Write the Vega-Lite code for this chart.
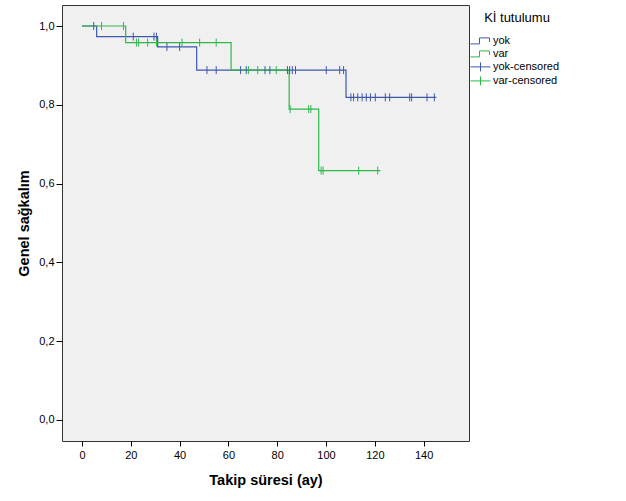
{
  "$schema": "https://vega.github.io/schema/vega-lite/v6.json",
  "width": 407,
  "height": 436,
  "autosize": {"type": "none"},
  "padding": {"left": 62, "top": 5, "right": 157, "bottom": 60},
  "background": "white",
  "config": {
    "view": {"fill": "#f0f0f0", "stroke": "#333333", "strokeWidth": 1},
    "font": "Liberation Sans",
    "axis": {
      "grid": false,
      "domain": false,
      "tickColor": "#000000",
      "labelColor": "#000000",
      "titleColor": "#000000",
      "labelFont": "Liberation Sans",
      "titleFont": "Liberation Sans",
      "labelFontSize": 11,
      "titleFontSize": 14.5,
      "titleFontWeight": "bold"
    },
    "legend": {
      "labelFont": "Liberation Sans",
      "titleFont": "Liberation Sans",
      "labelFontSize": 11,
      "titleFontSize": 13,
      "titleFontWeight": "normal",
      "labelColor": "#000000",
      "titleColor": "#000000"
    }
  },
  "datasets": {
    "curves": [
      {"series": "yok", "t": 0, "s": 1.0},
      {"series": "yok", "t": 6, "s": 0.973},
      {"series": "yok", "t": 31, "s": 0.947},
      {"series": "yok", "t": 47, "s": 0.888},
      {"series": "yok", "t": 108.2, "s": 0.819},
      {"series": "yok", "t": 145.2, "s": 0.819},
      {"series": "var", "t": 0, "s": 1.0},
      {"series": "var", "t": 17.9, "s": 0.958},
      {"series": "var", "t": 61.1, "s": 0.888},
      {"series": "var", "t": 84.9, "s": 0.789},
      {"series": "var", "t": 97, "s": 0.633},
      {"series": "var", "t": 122.3, "s": 0.633}
    ],
    "censored": [
      {"series": "yok-censored", "t": 4.8, "s": 1.0},
      {"series": "yok-censored", "t": 21, "s": 0.973},
      {"series": "yok-censored", "t": 29.5, "s": 0.973},
      {"series": "yok-censored", "t": 30.5, "s": 0.973},
      {"series": "yok-censored", "t": 34.8, "s": 0.947},
      {"series": "yok-censored", "t": 40, "s": 0.947},
      {"series": "yok-censored", "t": 51.2, "s": 0.888},
      {"series": "yok-censored", "t": 55, "s": 0.888},
      {"series": "yok-censored", "t": 65, "s": 0.888},
      {"series": "yok-censored", "t": 67.3, "s": 0.888},
      {"series": "yok-censored", "t": 75, "s": 0.888},
      {"series": "yok-censored", "t": 77, "s": 0.888},
      {"series": "yok-censored", "t": 84.2, "s": 0.888},
      {"series": "yok-censored", "t": 85.1, "s": 0.888},
      {"series": "yok-censored", "t": 86.2, "s": 0.888},
      {"series": "yok-censored", "t": 87.5, "s": 0.888},
      {"series": "yok-censored", "t": 100.1, "s": 0.888},
      {"series": "yok-censored", "t": 105.6, "s": 0.888},
      {"series": "yok-censored", "t": 107.2, "s": 0.888},
      {"series": "yok-censored", "t": 110.2, "s": 0.819},
      {"series": "yok-censored", "t": 111.3, "s": 0.819},
      {"series": "yok-censored", "t": 113, "s": 0.819},
      {"series": "yok-censored", "t": 114.8, "s": 0.819},
      {"series": "yok-censored", "t": 116.5, "s": 0.819},
      {"series": "yok-censored", "t": 118.2, "s": 0.819},
      {"series": "yok-censored", "t": 120.2, "s": 0.819},
      {"series": "yok-censored", "t": 124.3, "s": 0.819},
      {"series": "yok-censored", "t": 126.1, "s": 0.819},
      {"series": "yok-censored", "t": 134.3, "s": 0.819},
      {"series": "yok-censored", "t": 135.1, "s": 0.819},
      {"series": "yok-censored", "t": 141.4, "s": 0.819},
      {"series": "yok-censored", "t": 144.4, "s": 0.819},
      {"series": "var-censored", "t": 8, "s": 1.0},
      {"series": "var-censored", "t": 17, "s": 1.0},
      {"series": "var-censored", "t": 22.3, "s": 0.958},
      {"series": "var-censored", "t": 23.2, "s": 0.958},
      {"series": "var-censored", "t": 26.9, "s": 0.958},
      {"series": "var-censored", "t": 30.5, "s": 0.958},
      {"series": "var-censored", "t": 41, "s": 0.958},
      {"series": "var-censored", "t": 48.2, "s": 0.958},
      {"series": "var-censored", "t": 55, "s": 0.958},
      {"series": "var-censored", "t": 68.2, "s": 0.888},
      {"series": "var-censored", "t": 72, "s": 0.888},
      {"series": "var-censored", "t": 79.6, "s": 0.888},
      {"series": "var-censored", "t": 85.3, "s": 0.789},
      {"series": "var-censored", "t": 92.9, "s": 0.789},
      {"series": "var-censored", "t": 93.8, "s": 0.789},
      {"series": "var-censored", "t": 98, "s": 0.633},
      {"series": "var-censored", "t": 98.8, "s": 0.633},
      {"series": "var-censored", "t": 113.4, "s": 0.633},
      {"series": "var-censored", "t": 121.2, "s": 0.633}
    ]
  },
  "layer": [
    {
      "data": {"name": "curves"},
      "mark": {"type": "line", "interpolate": "step-after", "strokeWidth": 1.2},
      "encoding": {
        "x": {
          "field": "t",
          "type": "quantitative",
          "scale": {"domain": [-8.2, 158.6], "nice": false, "zero": false},
          "axis": {
            "values": [0, 20, 40, 60, 80, 100, 120, 140],
            "tickSize": 5,
            "labelPadding": 3,
            "title": "Takip süresi (ay)",
            "titleY": 43,
            "titleBaseline": "alphabetic"
          }
        },
        "y": {
          "field": "s",
          "type": "quantitative",
          "scale": {"domain": [-0.0533, 1.0533], "nice": false, "zero": false},
          "axis": {
            "values": [0, 0.2, 0.4, 0.6, 0.8, 1.0],
            "labelExpr": "replace(format(datum.value, '.1f'), '.', ',')",
            "tickSize": 6,
            "labelPadding": 2,
            "title": "Genel sağkalım",
            "titleX": -34,
            "titleBaseline": "alphabetic"
          }
        },
        "color": {
          "field": "series",
          "type": "nominal",
          "scale": {
            "domain": ["yok", "var", "yok-censored", "var-censored"],
            "range": ["#3e58ac", "#2eb848", "#3e58ac", "#2eb848"]
          },
          "legend": {
            "title": "Kİ tutulumu",
            "orient": "none",
            "legendX": 413,
            "legendY": 7.4,
            "titleAnchor": "middle",
            "titlePadding": 10,
            "symbolSize": 100,
            "symbolStrokeWidth": 1,
            "labelOffset": 7,
            "rowPadding": 1,
            "padding": 0,
            "encode": {
              "symbols": {
                "update": {
                  "shape": {"signal": "indexof(datum.value, 'censored') >= 0 ? 'M-2,0H2M0,-0.9V0.9' : 'M-2,0.6H-0.2V-0.6H1.8V0.2'"},
                  "fill": {"value": "transparent"},
                  "strokeWidth": {"value": 1},
                  "opacity": {"value": 1}
                }
              }
            }
          }
        },
        "order": {"field": "t"}
      }
    },
    {
      "data": {"name": "censored"},
      "mark": {"type": "point", "filled": false, "shape": "M0,-1V1", "size": 64, "strokeWidth": 1, "opacity": 1},
      "encoding": {
        "x": {"field": "t", "type": "quantitative"},
        "y": {"field": "s", "type": "quantitative"},
        "color": {"field": "series", "type": "nominal"}
      }
    }
  ]
}
